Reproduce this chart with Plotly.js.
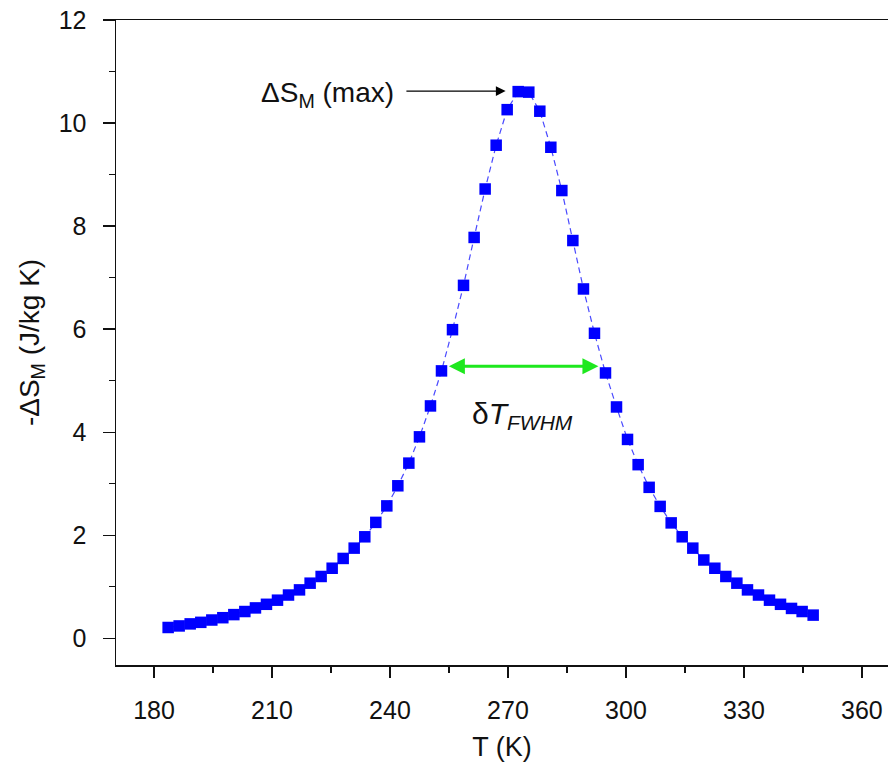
<!DOCTYPE html>
<html>
<head>
<meta charset="utf-8">
<script src="https://cdn.plot.ly/plotly-3.0.1.min.js"></script>
<style>html,body{margin:0;padding:0;background:#fff;}#chart{width:888px;height:771px;}</style>
</head>
<body>
<div id="chart"></div>
<script>
// Temperature (K)
var temperature = [183.6, 186.4, 189.2, 191.9, 194.7, 197.5, 200.3, 203.1, 205.8, 208.6,
  211.4, 214.2, 217.0, 219.7, 222.5, 225.3, 228.1, 230.9, 233.6, 236.4,
  239.2, 242.0, 244.8, 247.5, 250.3, 253.1, 255.9, 258.7, 261.4, 264.2,
  267.0, 269.8, 272.6, 275.3, 278.1, 280.9, 283.7, 286.5, 289.2, 292.0,
  294.8, 297.6, 300.4, 303.1, 305.9, 308.7, 311.5, 314.3, 317.0, 319.8,
  322.6, 325.4, 328.2, 330.9, 333.7, 336.5, 339.3, 342.1, 344.8, 347.6];
// -Delta S_M (J/kg K)
var entropyChange = [0.21, 0.24, 0.28, 0.31, 0.355, 0.40, 0.46, 0.52, 0.59, 0.66,
  0.74, 0.84, 0.94, 1.07, 1.20, 1.36, 1.55, 1.75, 1.97, 2.25,
  2.57, 2.96, 3.40, 3.91, 4.51, 5.19, 5.99, 6.85, 7.78, 8.72,
  9.57, 10.26, 10.61, 10.60, 10.23, 9.53, 8.69, 7.72, 6.78, 5.92,
  5.15, 4.49, 3.86, 3.37, 2.93, 2.56, 2.24, 1.97, 1.75, 1.52,
  1.36, 1.20, 1.07, 0.94, 0.84, 0.74, 0.66, 0.58, 0.52, 0.45];
var xTickVals = [180, 210, 240, 270, 300, 330, 360];
var yTickVals = [0, 2, 4, 6, 8, 10, 12];

// annotation anchor values
var peakArrow = {x: 269.4, y: 10.62, ax: 243.8};
var fwhm = {x0: 254.6, x1: 293.0, y: 5.28};

var trace = {
  x: temperature, y: entropyChange,
  type: 'scatter', mode: 'lines+markers',
  line: {color: '#4a4aff', width: 1.2, dash: '6px,4px'},
  marker: {symbol: 'square', size: 11.5, color: '#0000ff', line: {width: 0}},
  hoverinfo: 'x+y'
};

var fam = '"Liberation Sans", Arial, Helvetica, sans-serif';
var ink = '#111';

var layout = {
  width: 888, height: 771,
  margin: {l: 116, r: 0, t: 20, b: 106},
  paper_bgcolor: '#fff', plot_bgcolor: '#fff',
  showlegend: false,
  font: {family: fam, color: ink},
  xaxis: {
    range: [170.34, 366.63],
    tickvals: xTickVals,
    ticks: 'outside', ticklen: 11, tickwidth: 1.3, tickcolor: ink,
    ticklabelstandoff: 11,
    showline: true, linecolor: ink, linewidth: 1.5, mirror: true,
    showgrid: false, zeroline: false,
    tickfont: {size: 25, family: fam, color: ink},
    minor: {dtick: 15, tick0: 0, ticks: 'outside', ticklen: 6, tickwidth: 1.3, tickcolor: ink, showgrid: false},
    title: {text: 'T (K)', font: {size: 27, family: fam, color: ink}, standoff: 14}
  },
  yaxis: {
    range: [-0.518, 12.0],
    tickvals: yTickVals,
    ticks: 'outside', ticklen: 12, tickwidth: 1.3, tickcolor: ink,
    ticklabelstandoff: 11,
    showline: true, linecolor: ink, linewidth: 1.5,
    showgrid: false, zeroline: false,
    tickfont: {size: 25, family: fam, color: ink},
    minor: {dtick: 1, tick0: 0, ticks: 'outside', ticklen: 6, tickwidth: 1.3, tickcolor: ink, showgrid: false},
    title: {text: '-ΔS<sub>M</sub> (J/kg K)', font: {size: 28, family: fam, color: ink}, standoff: 11}
  },
  annotations: [
    {x: 241.6, y: 10.55, xref: 'x', yref: 'y', text: 'ΔS<sub>M</sub> (max)', showarrow: false,
     xanchor: 'right', yanchor: 'middle', font: {size: 28, family: fam, color: ink}},
    {x: peakArrow.x, y: peakArrow.y, ax: peakArrow.ax, ay: peakArrow.y, axref: 'x', ayref: 'y',
     xref: 'x', yref: 'y', text: '', showarrow: true, arrowhead: 2, arrowsize: 1.5, arrowwidth: 1.3, arrowcolor: '#000'},
    {x: fwhm.x1, y: fwhm.y, ax: fwhm.x0, ay: fwhm.y, axref: 'x', ayref: 'y', xref: 'x', yref: 'y',
     text: '', showarrow: true, arrowhead: 2, startarrowhead: 2, arrowside: 'end+start',
     arrowsize: 1, startarrowsize: 1, arrowwidth: 3.2, arrowcolor: '#1ee81e'},
    {x: 273.6, y: 4.33, xref: 'x', yref: 'y', text: 'δ<i>T</i><sub><i>FWHM</i></sub>', showarrow: false,
     xanchor: 'center', yanchor: 'middle', font: {size: 30, family: fam, color: ink}}
  ]
};

Plotly.newPlot('chart', [trace], layout, {displayModeBar: false, staticPlot: true});
</script>
</body>
</html>
